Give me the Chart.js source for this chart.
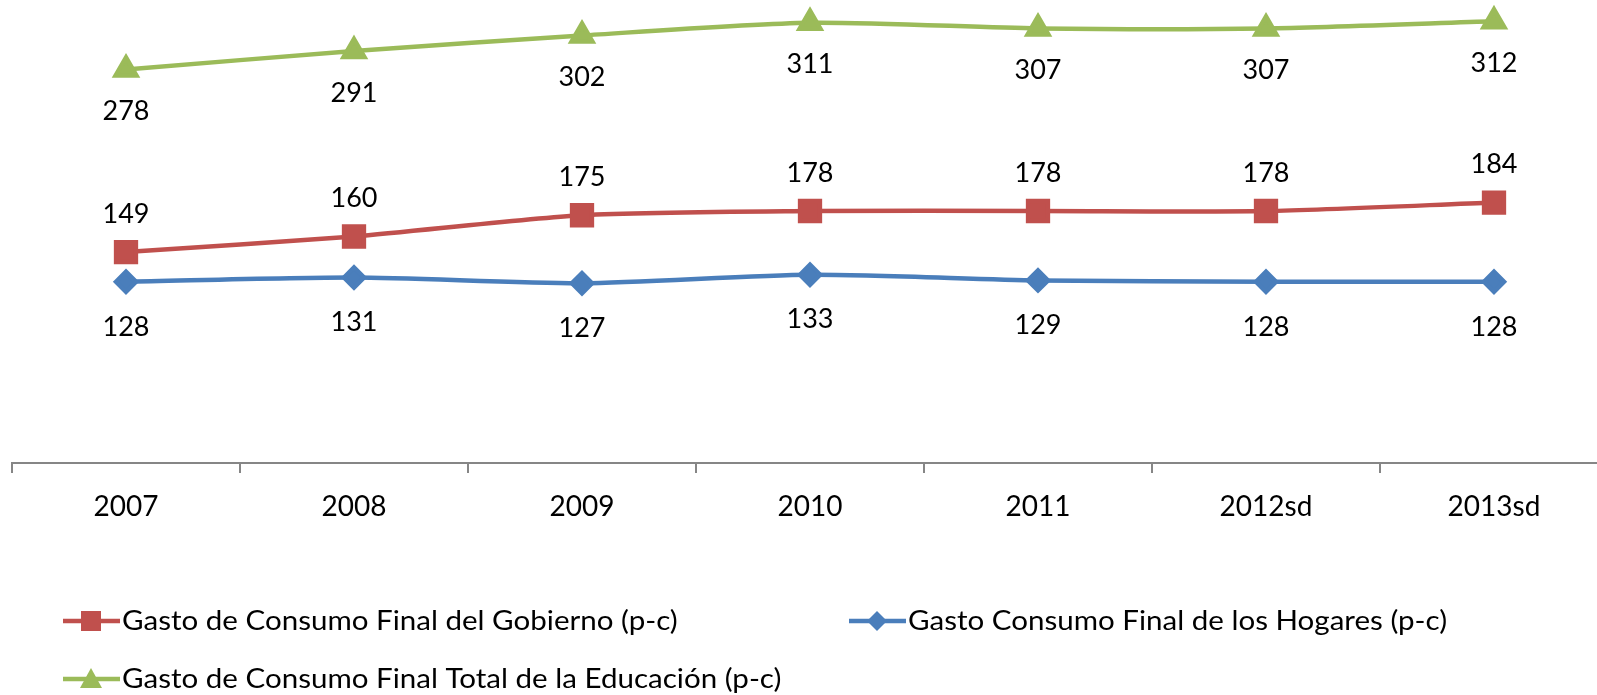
<!DOCTYPE html>
<html>
<head>
<meta charset="utf-8">
<script src="https://cdn.jsdelivr.net/npm/chart.js@4/dist/chart.umd.min.js"></script>
<style>
html,body{margin:0;padding:0;background:#fff;overflow:hidden;width:1597px;height:695px;}
#c{position:absolute;left:0;top:0;}
</style>
</head>
<body>
<canvas id="c" width="1620" height="695"></canvas>
<script>
const categories = ['2007','2008','2009','2010','2011','2012sd','2013sd'];
const gobierno = [149,160,175,178,178,178,184];
const hogares = [128,131,127,133,129,128,128];
const educacion = [278,291,302,311,307,307,312];
const seriesNames = [
  'Gasto de Consumo Final del Gobierno (p-c)',
  'Gasto Consumo Final de los Hogares (p-c)',
  'Gasto de Consumo Final Total de la Educación (p-c)'
];

const RED = '#C0504D', BLUE = '#4A7EBB', GREEN = '#9BBB59';
const FONT = 'Lato, "Open Sans", sans-serif';

const labelOffsets = [-38, 45, 42];

const dataLabelPlugin = {
  id: 'dataLabels',
  afterDatasetsDraw(chart) {
    const ctx = chart.ctx;
    ctx.save();
    ctx.font = '27px ' + FONT;
    ctx.fillStyle = '#000';
    ctx.textAlign = 'center';
    ctx.textBaseline = 'middle';
    chart.data.datasets.forEach((ds, i) => {
      const meta = chart.getDatasetMeta(i);
      meta.data.forEach((pt, j) => {
        ctx.fillText(String(ds.data[j]), pt.x, pt.y + labelOffsets[i]);
      });
    });
    ctx.restore();
  }
};

function drawMarker(ctx, style, x, y, color) {
  ctx.fillStyle = color;
  ctx.beginPath();
  if (style === 'rect') {
    ctx.rect(x - 10, y - 10, 20, 20);
  } else if (style === 'rectRot') {
    ctx.moveTo(x, y - 10); ctx.lineTo(x + 10, y); ctx.lineTo(x, y + 10); ctx.lineTo(x - 10, y);
    ctx.closePath();
  } else {
    ctx.moveTo(x, y - 11); ctx.lineTo(x + 11, y + 9); ctx.lineTo(x - 11, y + 9);
    ctx.closePath();
  }
  ctx.fill();
}

const legendPlugin = {
  id: 'customLegend',
  afterDraw(chart) {
    const ctx = chart.ctx;
    const items = [
      {x: 63, y: 621, color: RED, style: 'rect', text: seriesNames[0]},
      {x: 849, y: 621, color: BLUE, style: 'rectRot', text: seriesNames[1]},
      {x: 63, y: 679, color: GREEN, style: 'triangle', text: seriesNames[2]}
    ];
    ctx.save();
    items.forEach(it => {
      ctx.strokeStyle = it.color;
      ctx.lineWidth = 4.5;
      ctx.beginPath();
      ctx.moveTo(it.x, it.y);
      ctx.lineTo(it.x + 57, it.y);
      ctx.stroke();
      drawMarker(ctx, it.style, it.x + 28, it.y, it.color);
      ctx.save();
      ctx.fillStyle = '#000';
      ctx.font = '27px ' + FONT;
      ctx.textAlign = 'left';
      ctx.textBaseline = 'middle';
      ctx.translate(it.x + 59, it.y);
      ctx.scale(1.094, 1);
      ctx.fillText(it.text, 0, 0);
      ctx.restore();
    });
    ctx.restore();
  }
};

new Chart(document.getElementById('c'), {
  type: 'line',
  data: {
    labels: categories,
    datasets: [
      {label: seriesNames[0], data: gobierno, borderColor: RED, backgroundColor: RED,
       pointStyle: 'rect', pointRadius: 14, pointHoverRadius: 14, borderWidth: 4.5, tension: 0.25},
      {label: seriesNames[1], data: hogares, borderColor: BLUE, backgroundColor: BLUE,
       pointStyle: 'rectRot', pointRadius: 10, pointHoverRadius: 10, borderWidth: 4.5, tension: 0.25},
      {label: seriesNames[2], data: educacion, borderColor: GREEN, backgroundColor: GREEN,
       pointStyle: 'triangle', pointRadius: 12, pointHoverRadius: 12, borderWidth: 4.5, tension: 0.25}
    ]
  },
  options: {
    responsive: false,
    animation: false,
    devicePixelRatio: 1,
    clip: false,
    layout: {autoPadding: false, padding: {left: 12, right: 12, top: 10, bottom: 0}},
    plugins: {legend: {display: false}, tooltip: {enabled: false}},
    scales: {
      x: {
        offset: true,
        grid: {offset: true, drawOnChartArea: false, drawTicks: true, tickLength: 10, color: '#868686', lineWidth: 2},
        border: {display: true, color: '#868686', width: 2},
        ticks: {color: '#000', font: {family: FONT, size: 28}, padding: 17, maxRotation: 0, autoSkip: false},
        afterFit(scale) { scale.height = 232; }
      },
      y: {display: false, min: 0, max: 320}
    }
  },
  plugins: [dataLabelPlugin, legendPlugin]
});
</script>
</body>
</html>
